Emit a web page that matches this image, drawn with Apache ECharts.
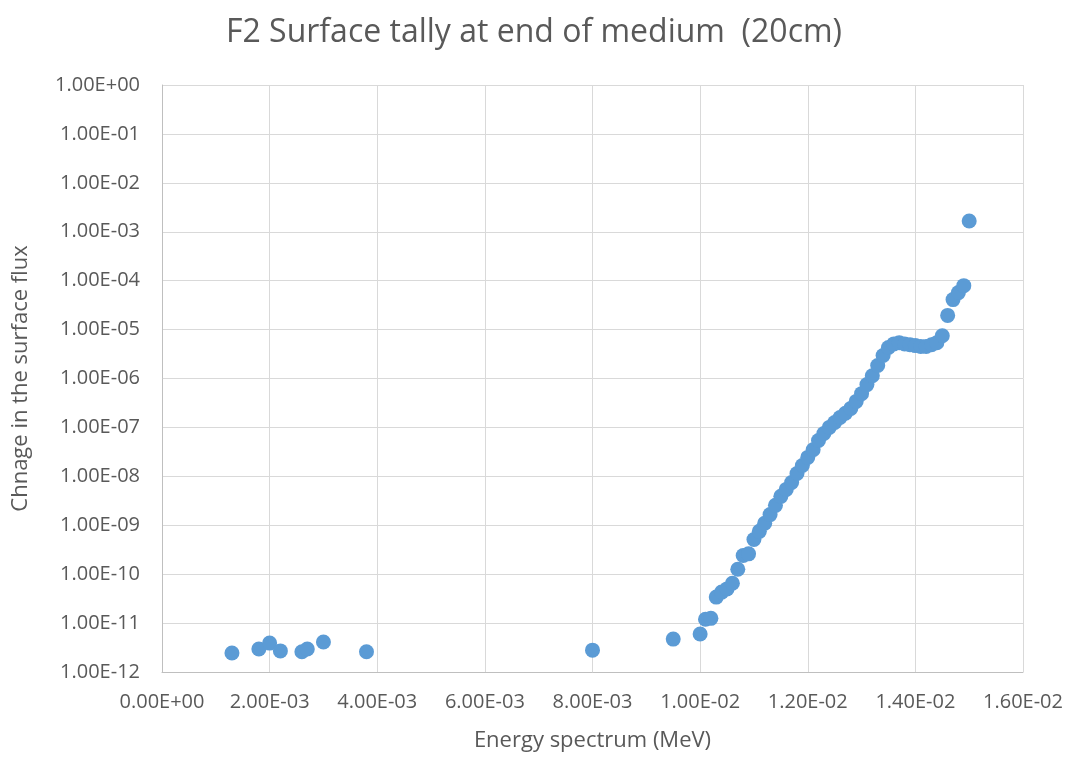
<!DOCTYPE html>
<html>
<head>
<meta charset="utf-8">
<script src="https://cdn.jsdelivr.net/npm/echarts@6/dist/echarts.min.js"></script>
<style>
  html, body { margin: 0; padding: 0; background: #fff; }
  #chart { width: 1068px; height: 757px; }
</style>
</head>
<body>
<div id="chart"></div>
<script>
// Energy bins (MeV) and the tallied change in surface flux
const energy = [
  0.0013, 0.0018, 0.0020, 0.0022, 0.0026, 0.0027, 0.0030, 0.0038,
  0.0080, 0.0095, 0.0100,
  0.0101, 0.0102, 0.0103, 0.0104, 0.0105, 0.0106, 0.0107, 0.0108, 0.0109,
  0.0110, 0.0111, 0.0112, 0.0113, 0.0114, 0.0115, 0.0116, 0.0117, 0.0118, 0.0119,
  0.0120, 0.0121, 0.0122, 0.0123, 0.0124, 0.0125, 0.0126, 0.0127, 0.0128, 0.0129,
  0.0130, 0.0131, 0.0132, 0.0133, 0.0134, 0.0135, 0.0136, 0.0137, 0.0138, 0.0139,
  0.0140, 0.0141, 0.0142, 0.0143, 0.0144, 0.0145, 0.0146, 0.0147, 0.0148, 0.0149,
  0.0150
];
const fluxChange = [
  2.45e-12, 2.95e-12, 3.9e-12, 2.7e-12, 2.6e-12, 2.95e-12, 4.1e-12, 2.6e-12,
  2.8e-12, 4.7e-12, 6.0e-12,
  1.2e-11, 1.25e-11, 3.4e-11, 4.3e-11, 5.0e-11, 6.5e-11, 1.26e-10, 2.4e-10, 2.6e-10,
  5.1e-10, 7.5e-10, 1.1e-9, 1.65e-9, 2.55e-9, 3.9e-9, 5.4e-9, 7.5e-9, 1.14e-8, 1.66e-8,
  2.44e-8, 3.5e-8, 5.4e-8, 7.5e-8, 1.0e-7, 1.26e-7, 1.6e-7, 1.95e-7, 2.45e-7, 3.4e-7,
  4.9e-7, 7.5e-7, 1.14e-6, 1.85e-6, 2.95e-6, 4.3e-6, 5.1e-6, 5.4e-6, 5.1e-6, 4.9e-6,
  4.7e-6, 4.5e-6, 4.5e-6, 4.9e-6, 5.4e-6, 7.5e-6, 1.95e-5, 4.1e-5, 5.7e-5, 7.9e-5,
  1.66e-3
];

const titleText = 'F2 Surface tally at end of medium  (20cm)';
const xName = 'Energy spectrum (MeV)';
const yName = 'Chnage in the surface flux';

// Excel-style scientific notation, e.g. 1.00E-12
function sci(v) {
  const s = Number(v).toExponential(2);
  const parts = s.split('e');
  let exp = parseInt(parts[1], 10);
  const sign = exp < 0 ? '-' : '+';
  exp = Math.abs(exp);
  return parts[0] + 'E' + sign + (exp < 10 ? '0' + exp : String(exp));
}

const font = 'Open Sans, Noto Sans, sans-serif';
const textColor = '#595959';

const chart = echarts.init(document.getElementById('chart'), null, { renderer: 'canvas' });
chart.setOption({
  animation: false,
  backgroundColor: '#ffffff',
  title: {
    text: titleText,
    left: 'center',
    top: 12,
    textStyle: { fontFamily: font, fontSize: 32, fontWeight: 'normal', color: textColor }
  },
  grid: { left: 162, right: 45, top: 85, bottom: 84, containLabel: false },
  xAxis: {
    type: 'value',
    min: 0,
    max: 0.016,
    interval: 0.002,
    name: xName,
    nameLocation: 'middle',
    nameGap: 58,
    nameTextStyle: { fontFamily: font, fontSize: 22, color: textColor },
    axisLine: { show: true, lineStyle: { color: '#bfbfbf', width: 1 } },
    axisTick: { show: false },
    axisLabel: {
      formatter: sci, margin: 20,
      fontFamily: font, fontSize: 20, color: textColor
    },
    splitLine: { show: true, lineStyle: { color: '#d9d9d9', width: 1 } }
  },
  yAxis: {
    type: 'log',
    logBase: 10,
    min: 1e-12,
    max: 1,
    interval: 1,
    splitNumber: 12,
    name: yName,
    nameLocation: 'middle',
    nameGap: 130,
    nameRotate: 90,
    nameTextStyle: { fontFamily: font, fontSize: 22, color: textColor },
    axisLine: { show: true, lineStyle: { color: '#bfbfbf', width: 1 } },
    axisTick: { show: false },
    axisLabel: {
      formatter: sci, margin: 22, showMinLabel: true, showMaxLabel: true,
      fontFamily: font, fontSize: 20, color: textColor
    },
    splitLine: { show: true, lineStyle: { color: '#d9d9d9', width: 1 } }
  },
  series: [{
    type: 'scatter',
    symbol: 'circle',
    symbolSize: 15,
    itemStyle: { color: '#5b9bd5', opacity: 1 },
    data: energy.map((e, i) => [e, fluxChange[i]])
  }]
});
</script>
</body>
</html>
